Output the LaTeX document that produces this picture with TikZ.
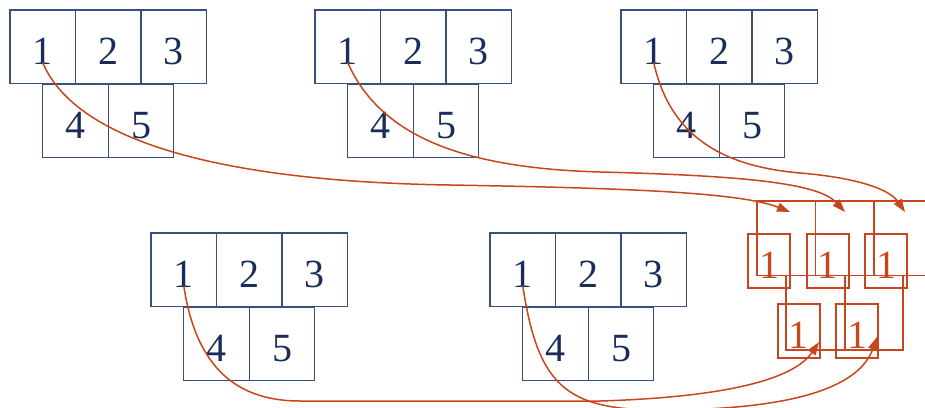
\documentclass[tikz,border=0pt]{standalone}
\usepackage{fontspec}
\setmainfont{Liberation Serif}
\usetikzlibrary{arrows.meta}
\definecolor{boxblue}{RGB}{55,80,125}
\definecolor{txtblue}{RGB}{25,45,90}
\definecolor{rust}{RGB}{200,70,30}
\tikzset{
  cell/.style={draw=boxblue, line width=1.2pt, minimum width=65.5pt, minimum height=73.5pt,
    inner sep=0pt, text=txtblue, font=\fontsize{40}{42}\selectfont, text height=35pt, text depth=0pt},
  ocell/.style={draw=rust, line width=1.6pt, minimum width=58.5pt, minimum height=74.5pt, inner sep=0pt},
  obox/.style={draw=rust, line width=2pt, minimum width=42pt, minimum height=54.5pt,
    inner sep=0pt, text=rust, font=\fontsize{40}{42}\selectfont, text height=35pt, text depth=0pt},
  link/.style={draw=rust, line width=1.5pt, -{Triangle[length=13pt,width=9pt]}}
}
\begin{document}
\begin{tikzpicture}[x=1pt,y=-1pt]
\clip (0,0) rectangle (925,407);
\fill[white] (0,0) rectangle (925,407);
% blue groups
\foreach \g/\x/\y in {a/10/10,b/315/10,c/621/10,d/151/233,e/490/233}{
  \node[cell] (\g1) at (\x+32.75,\y+36.75) {1};
  \node[cell] (\g2) at (\x+98.25,\y+36.75) {2};
  \node[cell] (\g3) at (\x+163.75,\y+36.75) {3};
  \node[cell] (\g4) at (\x+65.5,\y+111) {4};
  \node[cell] (\g5) at (\x+131,\y+111) {5};
}
% orange grid
\node[ocell] (og1) at (786.25,238.25) {};
\node[ocell] (og2) at (844.75,238.25) {};
\node[ocell] (og3) at (903.25,238.25) {};
\node[ocell] (og4) at (815.5,312.75) {};
\node[ocell] (og5) at (874,312.75) {};
% orange boxes
\node[obox] (o1) at (769,261) {1};
\node[obox] (o2) at (827.5,261) {1};
\node[obox] (o3) at (886,261) {1};
\node[obox] (o4) at (798.5,331) {1};
\node[obox] (o5) at (857,331) {1};
% arrow end points
\coordinate (tA) at (790,212);
\coordinate (tB) at (845,212);
\coordinate (tC) at (905,212);
\coordinate (tD) at (819,342);
\coordinate (tE) at (877,337);
% arrows
\draw[link] ([yshift=-16pt]a1.center) .. controls (80,150) and (250,182) .. (450,185)
  .. controls (620,188) and (740,192) .. (tA);
\draw[link] ([yshift=-16pt]b1.center) .. controls (380,135) and (460,168) .. (600,172)
  .. controls (760,176) and (820,185) .. (tB);
\draw[link] ([yshift=-16pt]c1.center) .. controls (670,135) and (720,166) .. (800,173)
  .. controls (860,178) and (890,190) .. (tC);
\draw[link] ([yshift=-16pt]d1.center) .. controls (195,360) and (230,401) .. (300,401)
  -- (600,401) .. controls (700,398) and (790,385) .. (tD);
\draw[link] ([yshift=-16pt]e1.center) .. controls (538,385) and (565,410) .. (660,410)
  .. controls (800,410) and (860,385) .. (tE);
\end{tikzpicture}
\end{document}
